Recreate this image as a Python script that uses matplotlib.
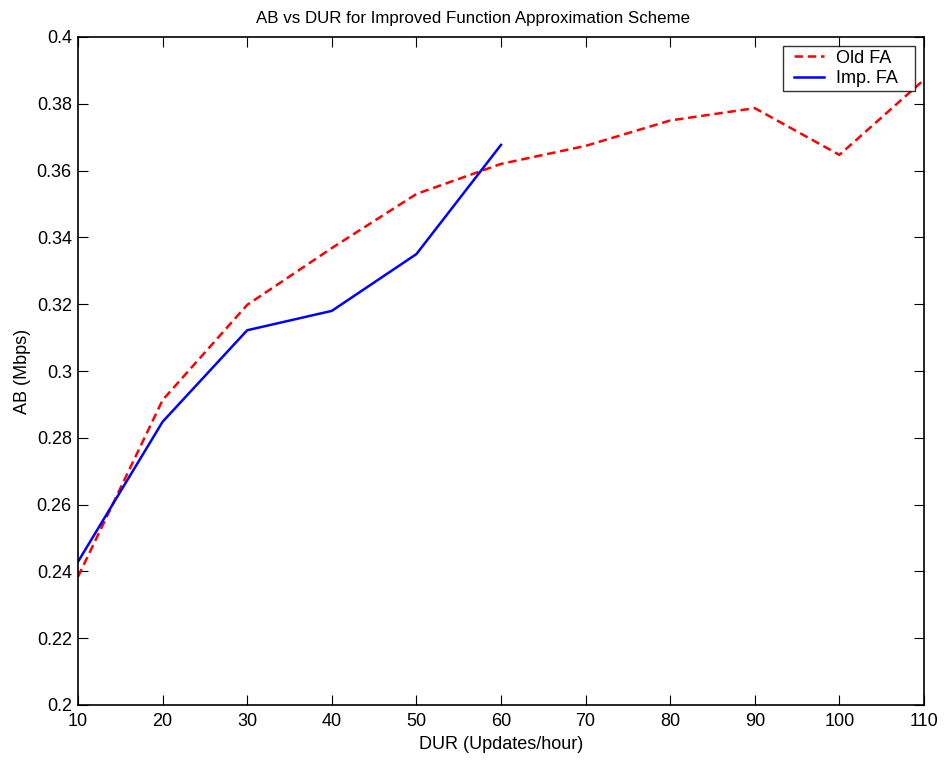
import matplotlib
matplotlib.use("Agg")
import matplotlib.pyplot as plt
from matplotlib.legend_handler import HandlerLine2D

plt.rcParams['font.family'] = ['Liberation Sans', 'DejaVu Sans']

dur = [10, 20, 30, 40, 50, 60, 70, 80, 90, 100, 110]
old_fa = [0.2384, 0.2913, 0.3198, 0.3368, 0.3530, 0.3620, 0.3674, 0.3750, 0.3787, 0.3647, 0.3872]

dur_imp = [10, 20, 30, 40, 50, 60]
imp_fa = [0.2429, 0.2848, 0.3122, 0.3180, 0.3350, 0.3677]

x_ticks = [10, 20, 30, 40, 50, 60, 70, 80, 90, 100, 110]
y_ticks = [0.2, 0.22, 0.24, 0.26, 0.28, 0.3, 0.32, 0.34, 0.36, 0.38, 0.4]
y_labels = ['0.2', '0.22', '0.24', '0.26', '0.28', '0.3', '0.32', '0.34', '0.36', '0.38', '0.4']

fig = plt.figure(figsize=(9.46, 7.6), dpi=100)
ax = fig.add_axes([78 / 946, 1 - 705 / 760, (924 - 78) / 946, (705 - 37) / 760])

ax.plot(dur, old_fa, color='#ff0000', linestyle='--', linewidth=1.8, dashes=(3.4, 1.9), label='Old FA')
ax.plot(dur_imp, imp_fa, color='#0000ff', linestyle='-', linewidth=1.8, label='Imp. FA')

ax.set_xlim(10, 110)
ax.set_ylim(0.2, 0.4)
ax.set_xticks(x_ticks)
ax.set_yticks(y_ticks)
ax.set_yticklabels(y_labels)
ax.tick_params(direction='in', length=7, width=0.8, top=True, right=True, labelsize=13)
ax.tick_params(axis='x', pad=6)
ax.tick_params(axis='y', pad=4.5)
for s in ax.spines.values():
    s.set_linewidth(1.2)

ax.set_xlabel('DUR (Updates/hour)', fontsize=13, labelpad=4)
ax.set_ylabel('AB (Mbps)', fontsize=13, labelpad=4)
# title centred on the figure rather than on the axes
ax.set_title('AB vs DUR for Improved Function Approximation Scheme', fontsize=12.2, pad=10,
             x=(473 - 78) / 846)

# legend box spanning a fixed width in the upper-right corner
x0 = (783 - 78) / 846
x1 = (915 - 78) / 846
ytop = 1 - (46 - 37) / 668
handler = HandlerLine2D(numpoints=2, marker_pad=0.42)
leg = ax.legend(loc='upper left', bbox_to_anchor=(x0, 0, x1 - x0, ytop), mode='expand',
                borderaxespad=0, fontsize=13, frameon=True, fancybox=False,
                edgecolor='black', borderpad=0.2, handlelength=2.5, handletextpad=0.25,
                labelspacing=0.21, handler_map={plt.Line2D: handler})
leg.get_frame().set_linewidth(1.0)

fig.savefig('out.png', dpi=100, facecolor='white')
